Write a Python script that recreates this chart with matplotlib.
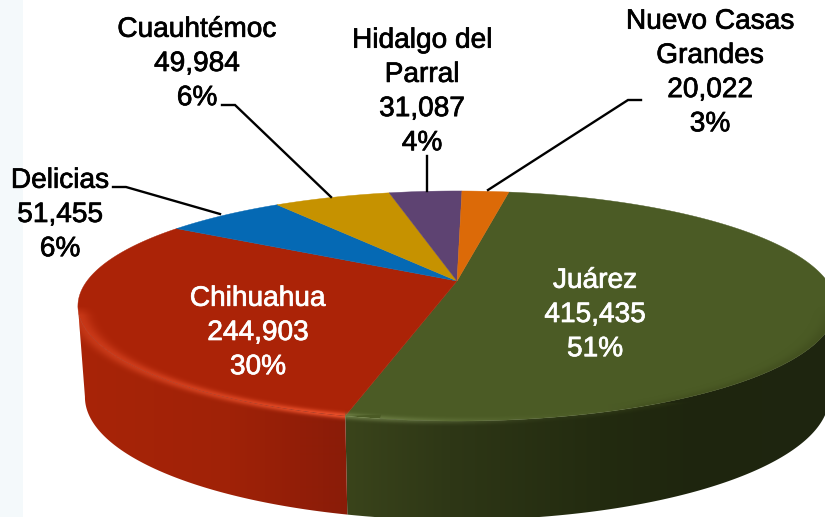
import numpy as np
import matplotlib
matplotlib.use("Agg")
import matplotlib.pyplot as plt
import matplotlib.patheffects as pe
from matplotlib.colors import to_rgb
from matplotlib.patches import Polygon

# data, clockwise from the 12 o'clock side
names = ["Juárez", "Chihuahua", "Delicias", "Cuauhtémoc", "Hidalgo del\nParral", "Nuevo Casas\nGrandes"]
values = [415435, 244903, 51455, 49984, 31087, 20022]
percents = [51, 30, 6, 6, 4, 3]
colors = ["#4b5b25", "#ab2307", "#0569b4", "#c69200", "#5e4372", "#dc6a08"]
text_colors = ["white", "white", "black", "black", "black", "black"]
label_xy = [(595, 315), (258, 333), (60, 215), (197, 64), (422, 92), (710, 73)]

# geometry of the tilted disc, in image pixels
START = 9.8
CX, AY, K, RX0, RY0 = 457.0, 281.0, 0.2174, 370.0, 109.6
TOP_CY, TOP_RX, TOP_RY = 306.0, 379.0, 115.0
BOT_CY, BOT_RX, BOT_RY = 397.0, 372.0, 123.0
W, H = 825, 517

side_ramps = {
    0: ([347, 450, 600, 700, 825], ["#3a441b", "#2e3716", "#232b10", "#1e250e", "#1f2610"]),
    1: ([78, 230, 300, 347], ["#a82408", "#a02207", "#921e08", "#8a1c08"]),
}
shine = {
    0: ([347, 430, 560, 640, 825], ["#8a9e60", "#8a9e60", "#6b7c45", "#3a4519", "#3a4519"],
        [0.55, 0.3, 0.08, 0.35, 0.45]),
    1: ([78, 150, 250, 340], ["#f0552f"] * 4, [0.4, 0.5, 0.65, 0.9]),
}


def project(theta):
    u, v = np.sin(np.radians(theta)), np.cos(np.radians(theta))
    w = 1 + K * v
    return CX + RX0 * u / w, AY - RY0 * v / w


def ramp(xs, stops, cols):
    rgb = np.array([to_rgb(c) for c in cols])
    return np.stack([np.interp(xs, stops, rgb[:, i]) for i in range(3)], axis=-1)


fig = plt.figure(figsize=(8.25, 5.17), dpi=100, facecolor="white")
ax = fig.add_axes([0, 0, 1, 1])
ax.axvspan(0, 23, color="#f4f9fb", lw=0, zorder=0)

edges = START + np.concatenate([[0], np.cumsum(values)]) / sum(values) * 360
px = np.arange(W) + 0.5
py = np.arange(H) + 0.5
XX, YY = np.meshgrid(px, py)

# side wall: a gradient strip clipped to the outline of each slice's wall
silhouette = []
for i, ramp_def in side_ramps.items():
    th = np.linspace(edges[i], edges[i + 1], 700)
    x, y = project(th)
    a = (x - CX) / TOP_RX
    b = (y - TOP_CY) / TOP_RY
    keep = b >= -0.004
    x, y, a, b = x[keep], y[keep], a[keep], b[keep]
    bx, by = CX + BOT_RX * a, BOT_CY + BOT_RY * b
    outline = np.vstack([np.column_stack([x, y]), np.column_stack([bx, by])[::-1]])
    strip = ramp(px, *ramp_def)[None, :, :]
    im = ax.imshow(strip, extent=(0, W, H, 0), aspect="auto", interpolation="bilinear", zorder=2)
    im.set_clip_path(Polygon(outline, transform=ax.transData))
    silhouette.append(outline)

# top face
for i, c in enumerate(colors):
    th = np.linspace(edges[i], edges[i + 1], 200)
    x, y = project(th)
    ax.fill(np.r_[CX, x], np.r_[AY, y], color=c, lw=0.3, zorder=3)

# soft highlight along the front rim, worked out per pixel
split_x = project(edges[1])[0]
ea = (XX - CX) / TOP_RX
eb = (YY - TOP_CY) / TOP_RY
dist = (np.hypot(ea, eb) - 1) * TOP_RY
glow = np.exp(-0.5 * (dist / 2.2) ** 2) * np.clip(eb / 0.08, 0, 1)
rgba = np.zeros((H, W, 4))
for i, (stops, cols, levels) in shine.items():
    mask = XX >= split_x if i == 0 else XX < split_x
    rgba[mask, :3] = ramp(XX[mask], stops, cols)
    rgba[mask, 3] = glow[mask] * np.interp(XX[mask], stops, levels)
bevel = ax.imshow(rgba, extent=(0, W, H, 0), aspect="auto", interpolation="bilinear", zorder=4)
tx_, ty_ = project(np.linspace(0, 360, 720))
bevel.set_clip_path(Polygon(np.vstack(silhouette + [np.column_stack([tx_, ty_])]), transform=ax.transData))

# leader lines
leaders = [
    ([113, 126, 220], [187, 187, 214]),
    ([222, 235, 331], [105, 105, 197]),
    ([427, 427], [156, 191]),
    ([641, 628, 488], [100, 100, 190]),
]
for lx, ly in leaders:
    ax.plot(lx, ly, color="black", lw=1.7, zorder=5, solid_joinstyle="miter")

# labels
for name, val, pct, tc, (tx, ty) in zip(names, values, percents, text_colors, label_xy):
    t = ax.text(tx, ty, f"{name}\n{val:,}\n{pct}%", ha="center", va="center", ma="center",
                color=tc, fontsize=20.2, family="Liberation Sans", linespacing=1.41, zorder=6)
    t.set_path_effects([pe.withStroke(linewidth=0.5, foreground=tc)])

ax.set_xlim(0, W)
ax.set_ylim(H, 0)
ax.axis("off")
fig.savefig("out.png", dpi=100)
